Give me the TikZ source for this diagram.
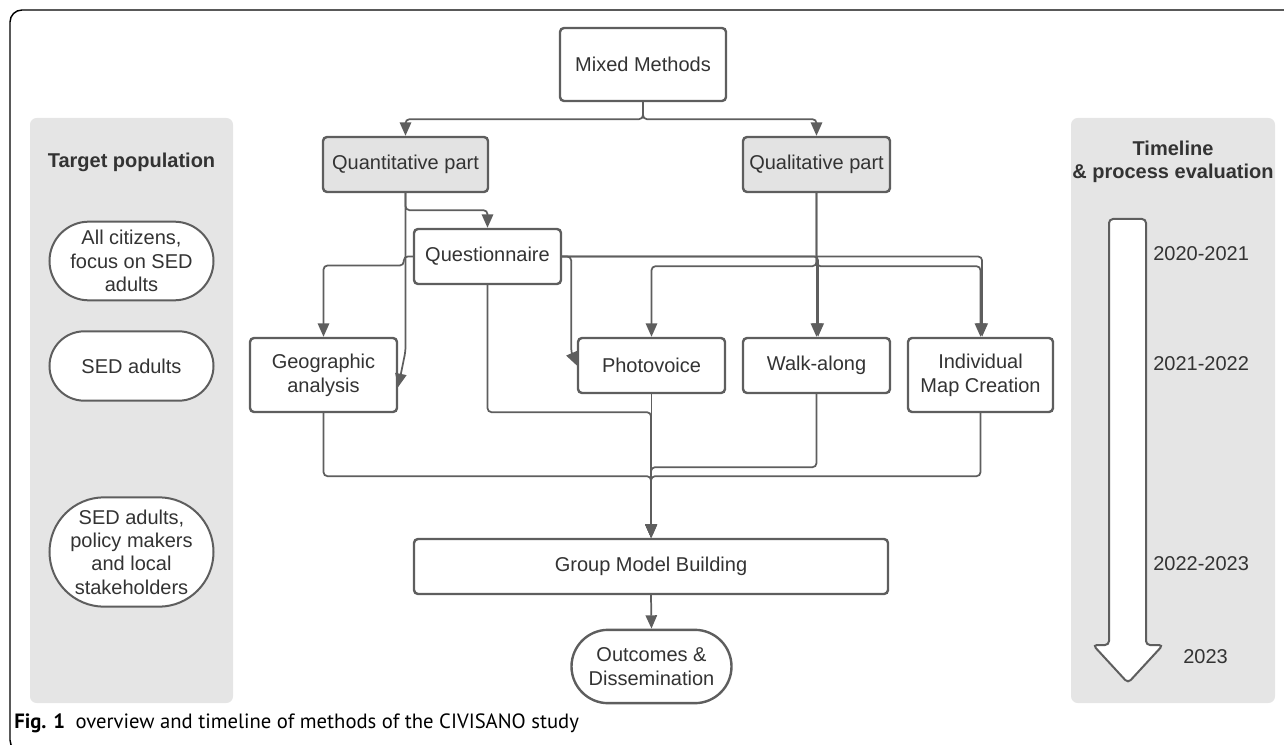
\documentclass[tikz,border=0pt]{standalone}
\usepackage{fontspec}
\setmainfont{Liberation Sans}
\newfontfamily\capfont{PT Sans}
\usepackage{xcolor}
\usepackage{tikz}
\usetikzlibrary{arrows.meta,shapes.misc,calc}
\usetikzlibrary{positioning}

\definecolor{lineGrey}{RGB}{94,94,94}
\definecolor{textGrey}{RGB}{51,51,51}
\definecolor{panelGrey}{RGB}{229,229,229}
\definecolor{partGrey}{RGB}{227,227,227}

\begin{document}
\begin{tikzpicture}[x=0.75pt,y=0.75pt,yscale=-1,
  box/.style={draw=lineGrey,line width=1.8pt,rounded corners=3pt,fill=white,text=textGrey,
    font=\fontsize{15}{18}\selectfont,align=center,inner sep=1pt},
  partbox/.style={box,fill=partGrey},
  pill/.style={draw=lineGrey,line width=1.5pt,rounded rectangle,fill=white,text=textGrey,
    font=\fontsize{15}{17.5}\selectfont,align=center,inner sep=1pt},
  conn/.style={draw=lineGrey,line width=1.3pt,rounded corners=3pt},
  arr/.style={conn,-{Triangle[length=10pt,width=8.5pt]}},
  yearlbl/.style={anchor=west,text=textGrey,font=\fontsize{15}{18}\selectfont,inner sep=0pt},
  headlbl/.style={text=textGrey,font=\fontsize{15}{17.5}\selectfont\bfseries,align=center,inner sep=0pt}]
  \useasboundingbox (0,0) rectangle (1284,745);

  %Shape: Frame
  \draw [black,line width=1.1pt,rounded corners=9pt] (1290,10) -- (10,10) -- (10,752) -- (40,752);
  %Shape: Panels
  \fill [panelGrey,rounded corners=5pt] (30,118) rectangle (233,703);
  \fill [panelGrey,rounded corners=5pt] (1071,118) rectangle (1275,703);

  %Shape: Timeline arrow
  \draw [lineGrey,line width=1.5pt,fill=white,rounded corners=3pt] (1127,219) -- (1146,219) -- (1146,645) -- (1163,645) -- (1128,683) -- (1093,645) -- (1109,645) -- (1109,219) -- cycle;

  % Text Node
  \node [headlbl] (target) at (131.5,162) {Target population};
  \node [headlbl] (timeline) at (1173,162) {Timeline\\\& process evaluation};
  \node [pill,minimum width=125pt,minimum height=59pt] (citizens) at (131.5,261) {All citizens,\\focus on SED\\adults};
  \node [pill,minimum width=125pt,minimum height=52pt] (sedA) at (131.5,366) {SED adults};
  \node [pill,minimum width=125pt,minimum height=82pt] (sedB) at (131.5,552) {SED adults,\\policy makers\\and local\\stakeholders};

  \node [yearlbl] (yA) at (1153,254) {2020-2021};
  \node [yearlbl] (yB) at (1153,364) {2021-2022};
  \node [yearlbl] (yC) at (1153,564) {2022-2023};
  \node [yearlbl] (yD) at (1183,657) {2023};

  % Flow boxes
  \node [box,minimum width=124.5pt,minimum height=54.75pt] (mixed) at (643,64.5) {Mixed Methods};
  \node [partbox,minimum width=123.75pt,minimum height=41.25pt] (quant) at (405.5,164.5) {Quantitative part};
  \node [partbox,minimum width=110.25pt,minimum height=41.25pt] (qual) at (816.5,164.5) {Qualitative part};
  \node [box,minimum width=110.25pt,minimum height=41.25pt] (quest) at (487.5,256.5) {Questionnaire};
  \node [box,minimum width=110.25pt,minimum height=55.5pt] (geo) at (323.5,375) {Geographic\\analysis};
  \node [box,minimum width=110.25pt,minimum height=41.25pt] (photo) at (651.5,365.5) {Photovoice};
  \node [box,minimum width=110.25pt,minimum height=41.25pt] (walk) at (816.5,365.5) {Walk-along};
  \node [box,minimum width=108.75pt,minimum height=55.5pt] (imap) at (980.5,375) {Individual\\Map Creation};
  \node [box,minimum width=355.5pt,minimum height=41.25pt] (gmb) at (651,566.5) {Group Model Building};
  \node [pill,line width=1.8pt,minimum width=122pt,minimum height=55pt] (outc) at (651.5,666.5) {Outcomes \&\\Dissemination};

  %Straight Lines
  \draw [arr] (mixed.south) -- ++(0,17) -| (quant.north);
  \draw [arr] (mixed.south) -- ++(0,17) -| (qual.north);
  \draw [arr] (quant.south) -- ++(0,17) -| (quest.north);
  \draw [arr] (quant.south) -- ++(0,158) -- ([yshift=9pt]geo.east);
  \draw [arr] (quest.west) -- ++(-9,0) -- ++(0,9) -| (geo.north);
  \draw [arr] (quest.east) -- ++(9,0) -- ++(0,96) -- (photo.west);
  \draw [arr] (quest.east) -| ([xshift=1.2pt]walk.north);
  \draw [arr] (quest.east) -| ([xshift=1.2pt]imap.north);
  \draw [arr] (qual.south) -- (walk.north);
  \draw [arr] (qual.south) -- ++(0,73) -| (photo.north);
  \draw [arr] (qual.south) -- ++(0,73) -| (imap.north);
  \draw [arr] (geo.south) -- ++(0,63) -| (gmb.north);
  \draw [arr] (quest.south) -- ++(0,127) -| (gmb.north);
  \draw [arr] (photo.south) -- (photo.south |- gmb.north);
  \draw [arr] (walk.south) -- ++(0,73) -| (gmb.north);
  \draw [arr] (imap.south) -- ++(0,63) -| (gmb.north);
  \draw [arr] (gmb.south) -- (outc.north);

  % Caption
  \node [anchor=west,inner sep=0pt,font=\capfont\fontsize{15.5}{17}\selectfont] (caption) at (14,723) {\textbf{Fig. 1}\enspace overview and timeline of methods of the CIVISANO study};
\end{tikzpicture}
\end{document}
